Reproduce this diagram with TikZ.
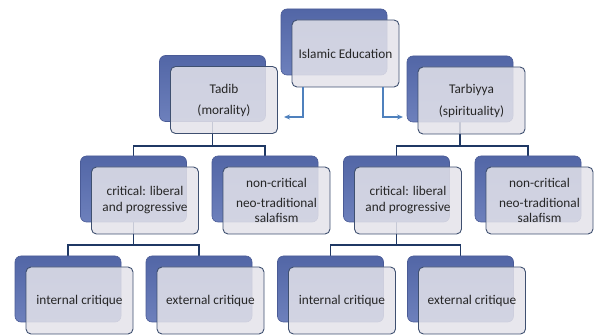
\documentclass[tikz,border=0pt]{standalone}
\usepackage{fontspec}
\setmainfont{Carlito}
\usetikzlibrary{arrows.meta,calc,backgrounds}
\definecolor{backtop}{HTML}{5266A6}
\definecolor{backbot}{HTML}{6D80BC}
\definecolor{backedge}{HTML}{4A5B96}
\definecolor{frontfill}{HTML}{E4E3EA}
\definecolor{frontedge}{HTML}{3F5070}
\definecolor{textgray}{HTML}{262626}
\definecolor{connavy}{HTML}{1F3864}
\definecolor{arrblue}{HTML}{4F81BD}
\newcommand\mkpair[4]{%
  \node[backbox] (b#1) at (#2,#3) {};
  \node[frontbox] (f#1) at ($(#2,#3)+(11.5,11.5)$) {#4};}
\begin{document}
\begin{tikzpicture}[x=1pt,y=-1pt,
  backbox/.style={rectangle, rounded corners=6pt, minimum width=106pt, minimum height=66pt,
    inner sep=0pt, draw=backedge, line width=0.6pt, top color=backtop, bottom color=backbot},
  frontbox/.style={rectangle, rounded corners=5pt, minimum width=107pt, minimum height=67pt,
    inner sep=0pt, draw=frontedge, line width=0.9pt, fill=frontfill, fill opacity=0.85,
    text opacity=1, text=textgray, align=center, font=\fontsize{13.3}{16}\selectfont},
  conn/.style={draw=connavy, line width=1.7pt},
  arr/.style={draw=arrblue, line width=1.2pt, -{Stealth[length=6pt,width=5pt]}}]
\useasboundingbox (0,0) rectangle (594,336);
\mkpair{IE}{334}{42}{Islamic Education}
\mkpair{T}{212.5}{88.5}{Tadib\\[5pt](morality)}
\mkpair{R}{460}{89}{Tarbiyya\\[6pt](spirituality)}
\mkpair{LC}{133.5}{189}{critical: liberal\\and progressive}
\mkpair{LN}{265}{189}{non-critical\\[4pt]neo-traditional\\[-1pt]salafism}
\mkpair{RC}{396.5}{189}{critical: liberal\\and progressive}
\mkpair{RN}{528}{189}{non-critical\\[4pt]neo-traditional\\[-1pt]salafism}
\mkpair{LI}{68}{289}{internal critique}
\mkpair{LE}{199}{289}{external critique}
\mkpair{RI}{330.5}{289}{internal critique}
\mkpair{RE}{460.5}{289}{external critique}
\coordinate (aL) at (284,117);
\coordinate (aR) at (403,117);
\begin{scope}[on background layer]
  \draw[conn] (bT.south) -- +(0,24) -| (bLC.north);
  \draw[conn] (bT.south) -- +(0,24) -| (bLN.north);
  \draw[conn] (bR.south) -- +(0,24) -| (bRC.north);
  \draw[conn] (bR.south) -- +(0,24) -| (bRN.north);
  \draw[conn] (bLC.south) -- +(0,23) -| (bLI.north);
  \draw[conn] (bLC.south) -- +(0,23) -| (bLE.north);
  \draw[conn] (bRC.south) -- +(0,23) -| (bRI.north);
  \draw[conn] (bRC.south) -- +(0,23) -| (bRE.north);
\end{scope}
\draw[arr] ([xshift=-42.5pt]fIE.south) |- (aL);
\draw[arr] ([xshift=37.5pt]fIE.south) |- (aR);
\end{tikzpicture}
\end{document}
